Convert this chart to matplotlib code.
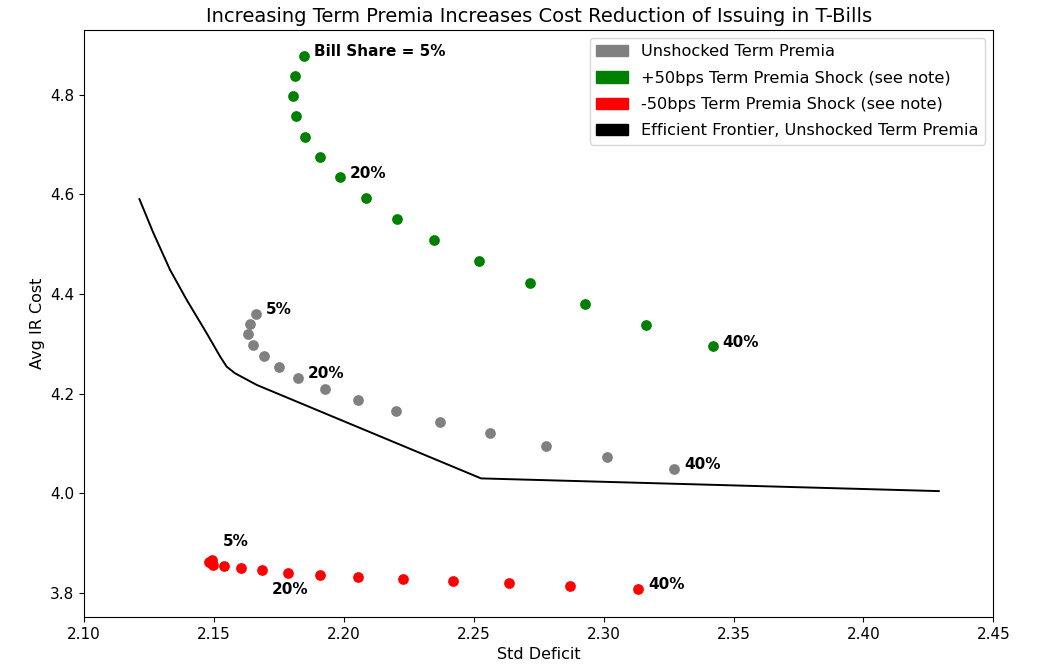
import numpy as np
import matplotlib
matplotlib.use("Agg")
import matplotlib.pyplot as plt
import matplotlib.patches as mpatches

# bill share for each point, 5% to 40% in 2.5% steps
shares = [5, 7.5, 10, 12.5, 15, 17.5, 20, 22.5, 25, 27.5, 30, 32.5, 35, 37.5, 40]

# unshocked term premia
base_std = [2.1662, 2.1638, 2.1630, 2.1652, 2.1694, 2.1751, 2.1824, 2.1929,
            2.2056, 2.2201, 2.2371, 2.2561, 2.2778, 2.3012, 2.3272]
base_cost = [4.360, 4.340, 4.319, 4.297, 4.276, 4.254, 4.232, 4.210,
             4.188, 4.165, 4.143, 4.121, 4.096, 4.073, 4.050]

# +50bps shock
up_std = [2.1847, 2.1811, 2.1805, 2.1816, 2.1850, 2.1909, 2.1987, 2.2085,
          2.2206, 2.2348, 2.2521, 2.2715, 2.2927, 2.3162, 2.3420]
up_cost = [4.878, 4.838, 4.798, 4.757, 4.716, 4.675, 4.634, 4.592,
           4.550, 4.509, 4.467, 4.423, 4.381, 4.338, 4.295]

# -50bps shock
down_std = [2.1480, 2.1492, 2.1488, 2.1498, 2.1539, 2.1603, 2.1684, 2.1784,
            2.1909, 2.2056, 2.2227, 2.2419, 2.2635, 2.2871, 2.3133]
down_cost = [3.862, 3.867, 3.860, 3.856, 3.854, 3.850, 3.846, 3.841,
             3.836, 3.832, 3.828, 3.824, 3.820, 3.814, 3.809]

# efficient frontier, unshocked
ef_std = [2.1213, 2.1267, 2.1331, 2.1395, 2.1472, 2.1524, 2.1549, 2.1581,
          2.1665, 2.2528, 2.4290]
ef_cost = [4.5906, 4.5223, 4.4486, 4.3884, 4.3215, 4.2745, 4.2544, 4.2412,
           4.2177, 4.0303, 4.0048]

fig = plt.figure(figsize=(10.38, 6.65), dpi=100)
ax = fig.add_axes([0.081, 0.072, 0.876, 0.883])

ax.plot(ef_std, ef_cost, color="black", lw=1.4)
ax.scatter(base_std, base_cost, s=45, color="grey", zorder=3)
ax.scatter(up_std, up_cost, s=45, color="green", zorder=3)
ax.scatter(down_std, down_cost, s=45, color="red", zorder=3)

lab = dict(fontsize=11, fontweight="bold", textcoords="offset points", va="center")
first, mid, last = 0, shares.index(20), len(shares) - 1

ax.annotate("Bill Share = 5%", (up_std[first], up_cost[first]), xytext=(7, 3), **lab)
ax.annotate("20%", (up_std[mid], up_cost[mid]), xytext=(7, 3), **lab)
ax.annotate("40%", (up_std[last], up_cost[last]), xytext=(7, 3), **lab)

ax.annotate("5%", (base_std[first], base_cost[first]), xytext=(7, 3), **lab)
ax.annotate("20%", (base_std[mid], base_cost[mid]), xytext=(7, 3), **lab)
ax.annotate("40%", (base_std[last], base_cost[last]), xytext=(7, 3), **lab)

ax.annotate("5%", (down_std[first], down_cost[first]), xytext=(10, 15), **lab)
ax.annotate("20%", (down_std[mid], down_cost[mid]), xytext=(7, -14), **lab)
ax.annotate("40%", (down_std[last], down_cost[last]), xytext=(7, 3), **lab)

ax.set_xlim(2.10, 2.45)
ax.set_ylim(3.752, 4.93)
ax.set_xticks(np.arange(2.10, 2.451, 0.05))
ax.set_yticks([3.8, 4.0, 4.2, 4.4, 4.6, 4.8])
ax.tick_params(labelsize=11)
ax.set_xlabel("Std Deficit", fontsize=11.5)
ax.set_ylabel("Avg IR Cost", fontsize=11.5)
ax.set_title("Increasing Term Premia Increases Cost Reduction of Issuing in T-Bills", fontsize=14)

handles = [
    mpatches.Patch(color="grey", label="Unshocked Term Premia"),
    mpatches.Patch(color="green", label="+50bps Term Premia Shock (see note)"),
    mpatches.Patch(color="red", label="-50bps Term Premia Shock (see note)"),
    mpatches.Patch(color="black", label="Efficient Frontier, Unshocked Term Premia"),
]
ax.legend(handles=handles, loc="upper right", fontsize=11.6, labelspacing=0.7)

fig.savefig("out.png", dpi=100)
